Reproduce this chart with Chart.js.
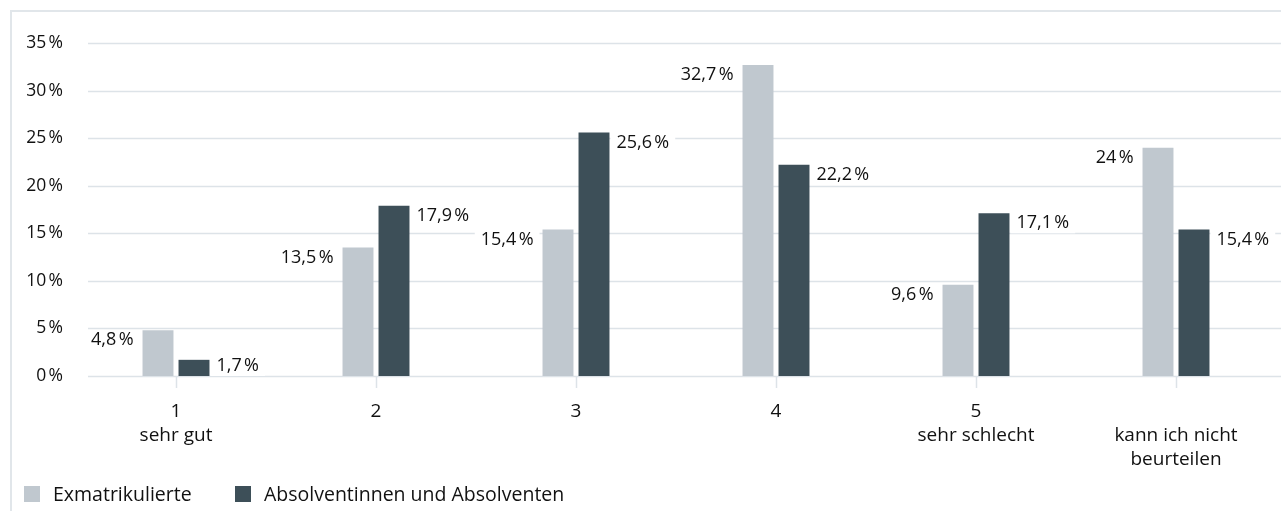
<!DOCTYPE html>
<html lang="de">
<head>
  <meta charset="UTF-8" />
  <title>Bewertung</title>
  <script src="https://cdn.jsdelivr.net/npm/chart.js"></script>
  <style>
    html, body { margin: 0; padding: 0; background: #fff; }
    body { width: 1281px; height: 511px; position: relative; overflow: hidden; font-family: "Open Sans", sans-serif; color: #111; }
    #wrap { position: absolute; left: 0; top: 0; width: 1281px; height: 511px; }
    #frame { position: absolute; left: 10px; top: 10px; right: -10px; bottom: -10px; border-left: 2px solid #e1e6ea; border-top: 2px solid #e1e6ea; pointer-events: none; }
    .legend { position: absolute; top: 480px; left: 24px; font-size: 19.5px; display: flex; align-items: center; }
    .legend span.box { display: inline-block; width: 16px; height: 16px; margin-right: 13px; flex: none; }
    .legend .item { display: flex; align-items: center; white-space: nowrap; }
    .legend .item:first-child { width: 211px; }
  </style>
</head>
<body>
  <div id="wrap"><canvas id="chart" width="1281" height="511"></canvas></div>
  <div id="frame"></div>
  <div class="legend" id="legend"></div>

  <script>
    const categories = [['1', 'sehr gut'], '2', '3', '4', ['5', 'sehr schlecht'], ['', 'kann ich nicht', 'beurteilen']];
    const seriesNames = ['Exmatrikulierte', 'Absolventinnen und Absolventen'];
    const exmatrikulierte = [4.8, 13.5, 15.4, 32.7, 9.6, 24];
    const absolventen = [1.7, 17.9, 25.6, 22.2, 17.1, 15.4];
    const yTicks = [0, 5, 10, 15, 20, 25, 30, 35];
    const colors = ['#c0c8cf', '#3d4f58'];

    const pct = v => String(v).replace('.', ',') + '\u202F%';

    // grid lines start a bit right of the chart area, like the original
    const gridPlugin = {
      id: 'grid',
      beforeDatasetsDraw(chart) {
        const ctx = chart.ctx, y = chart.scales.y, x = chart.scales.x;
        ctx.save();
        ctx.strokeStyle = '#dde3e8';
        ctx.lineWidth = 1.5;
        yTicks.forEach(t => {
          const py = Math.round(y.getPixelForValue(t)) + 0.5;
          ctx.beginPath();
          ctx.moveTo(88, py);
          ctx.lineTo(chart.width, py);
          ctx.stroke();
        });
        const base = y.getPixelForValue(0);
        categories.forEach((c, i) => {
          const px = Math.round(x.getPixelForValue(i)) + 0.5;
          ctx.beginPath();
          ctx.moveTo(px, base);
          ctx.lineTo(px, base + 12);
          ctx.stroke();
        });
        ctx.restore();
      }
    };

    const labelPlugin = {
      id: 'valueLabels',
      afterDatasetsDraw(chart) {
        const ctx = chart.ctx;
        ctx.save();
        ctx.font = '18px "Open Sans"';
        ctx.textBaseline = 'middle';
        chart.data.datasets.forEach((ds, di) => {
          chart.getDatasetMeta(di).data.forEach((bar, i) => {
            const text = pct(ds.data[i]);
            const w = ctx.measureText(text).width;
            const ty = Math.min(bar.y + 10, bar.base - 10);
            let tx;
            if (di === 0) {
              tx = bar.x - bar.width / 2 - 9 - w;
            } else {
              tx = bar.x + bar.width / 2 + 7;
            }
            ctx.fillStyle = '#fff';
            ctx.fillRect(tx - 6, ty - 10, w + 12, 20);
            ctx.fillStyle = '#111';
            ctx.textAlign = 'left';
            ctx.fillText(text, tx, ty);
          });
        });
        ctx.restore();
      }
    };

    new Chart(document.getElementById('chart'), {
      type: 'bar',
      data: {
        labels: categories,
        datasets: [
          { label: seriesNames[0], data: exmatrikulierte, backgroundColor: colors[0] },
          { label: seriesNames[1], data: absolventen, backgroundColor: colors[1] }
        ]
      },
      options: {
        responsive: false,
        animation: false,
        categoryPercentage: 0.36,
        barPercentage: 0.86,
        layout: { padding: { top: 43, right: 5, left: 0, bottom: 0 } },
        plugins: { legend: { display: false }, tooltip: { enabled: false } },
        scales: {
          x: {
            grid: { display: false },
            border: { display: false },
            ticks: { color: '#111', font: { family: 'Open Sans', size: 19, lineHeight: 1.26 }, padding: 16, maxRotation: 0, autoSkip: false },
            afterFit(scale) { scale.height = 135; }
          },
          y: {
            min: 0, max: 35,
            grid: { display: false },
            border: { display: false },
            afterBuildTicks(scale) { scale.ticks = yTicks.map(v => ({ value: v })); },
            ticks: { color: '#111', font: { family: 'Open Sans', size: 17.5 }, padding: 5, callback: v => pct(v) },
            afterFit(scale) { scale.width = 76; }
          }
        }
      },
      plugins: [gridPlugin, labelPlugin]
    });

    const legend = document.getElementById('legend');
    seriesNames.forEach((n, i) => {
      const item = document.createElement('div');
      item.className = 'item';
      item.innerHTML = '<span class="box" style="background:' + colors[i] + '"></span>' + n;
      legend.appendChild(item);
    });
  </script>
</body>
</html>
